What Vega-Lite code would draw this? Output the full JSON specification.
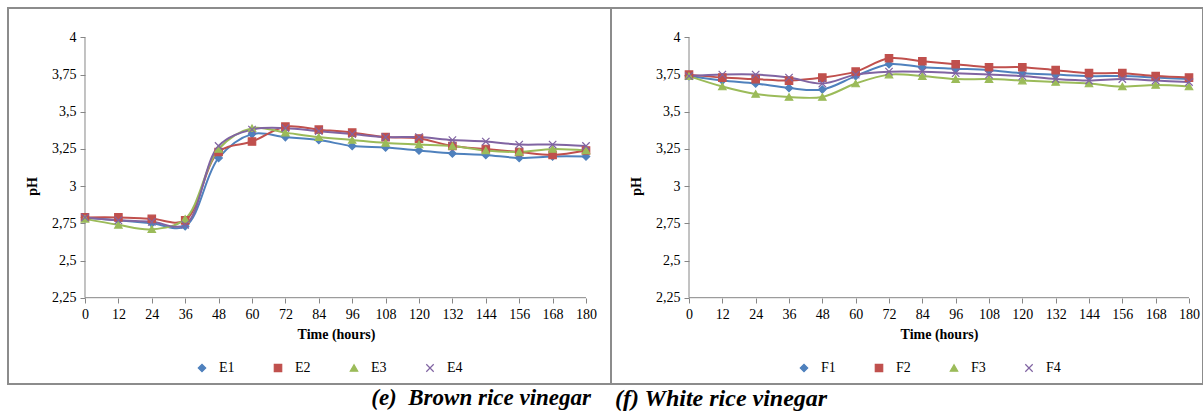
{
  "$schema": "https://vega.github.io/schema/vega-lite/v6.json",
  "padding": {"left": 7, "top": 7, "right": 0, "bottom": 0},
  "background": "white",
  "bounds": "flush",
  "spacing": 0,
  "resolve": {"scale": {"fill": "independent", "stroke": "independent", "shape": "independent"}, "legend": {"fill": "independent", "stroke": "independent", "shape": "independent"}},
  "datasets": {
    "brown": [
      {"series": "E1", "time": 0, "pH": 2.79}, {"series": "E1", "time": 12, "pH": 2.77}, {"series": "E1", "time": 24, "pH": 2.75}, {"series": "E1", "time": 36, "pH": 2.73},
      {"series": "E1", "time": 48, "pH": 3.19}, {"series": "E1", "time": 60, "pH": 3.35}, {"series": "E1", "time": 72, "pH": 3.33}, {"series": "E1", "time": 84, "pH": 3.31},
      {"series": "E1", "time": 96, "pH": 3.27}, {"series": "E1", "time": 108, "pH": 3.26}, {"series": "E1", "time": 120, "pH": 3.24}, {"series": "E1", "time": 132, "pH": 3.22},
      {"series": "E1", "time": 144, "pH": 3.21}, {"series": "E1", "time": 156, "pH": 3.19}, {"series": "E1", "time": 168, "pH": 3.2}, {"series": "E1", "time": 180, "pH": 3.2},
      {"series": "E2", "time": 0, "pH": 2.79}, {"series": "E2", "time": 12, "pH": 2.79}, {"series": "E2", "time": 24, "pH": 2.78}, {"series": "E2", "time": 36, "pH": 2.77},
      {"series": "E2", "time": 48, "pH": 3.23}, {"series": "E2", "time": 60, "pH": 3.3}, {"series": "E2", "time": 72, "pH": 3.4}, {"series": "E2", "time": 84, "pH": 3.38},
      {"series": "E2", "time": 96, "pH": 3.36}, {"series": "E2", "time": 108, "pH": 3.33}, {"series": "E2", "time": 120, "pH": 3.32}, {"series": "E2", "time": 132, "pH": 3.27},
      {"series": "E2", "time": 144, "pH": 3.25}, {"series": "E2", "time": 156, "pH": 3.23}, {"series": "E2", "time": 168, "pH": 3.21}, {"series": "E2", "time": 180, "pH": 3.24},
      {"series": "E3", "time": 0, "pH": 2.78}, {"series": "E3", "time": 12, "pH": 2.74}, {"series": "E3", "time": 24, "pH": 2.71}, {"series": "E3", "time": 36, "pH": 2.78},
      {"series": "E3", "time": 48, "pH": 3.25}, {"series": "E3", "time": 60, "pH": 3.39}, {"series": "E3", "time": 72, "pH": 3.36}, {"series": "E3", "time": 84, "pH": 3.33},
      {"series": "E3", "time": 96, "pH": 3.31}, {"series": "E3", "time": 108, "pH": 3.29}, {"series": "E3", "time": 120, "pH": 3.28}, {"series": "E3", "time": 132, "pH": 3.27},
      {"series": "E3", "time": 144, "pH": 3.24}, {"series": "E3", "time": 156, "pH": 3.23}, {"series": "E3", "time": 168, "pH": 3.25}, {"series": "E3", "time": 180, "pH": 3.24},
      {"series": "E4", "time": 0, "pH": 2.79}, {"series": "E4", "time": 12, "pH": 2.77}, {"series": "E4", "time": 24, "pH": 2.76}, {"series": "E4", "time": 36, "pH": 2.74},
      {"series": "E4", "time": 48, "pH": 3.27}, {"series": "E4", "time": 60, "pH": 3.38}, {"series": "E4", "time": 72, "pH": 3.39}, {"series": "E4", "time": 84, "pH": 3.37},
      {"series": "E4", "time": 96, "pH": 3.35}, {"series": "E4", "time": 108, "pH": 3.33}, {"series": "E4", "time": 120, "pH": 3.33}, {"series": "E4", "time": 132, "pH": 3.31},
      {"series": "E4", "time": 144, "pH": 3.3}, {"series": "E4", "time": 156, "pH": 3.28}, {"series": "E4", "time": 168, "pH": 3.28}, {"series": "E4", "time": 180, "pH": 3.27}
    ],
    "white": [
      {"series": "F1", "time": 0, "pH": 3.74}, {"series": "F1", "time": 12, "pH": 3.71}, {"series": "F1", "time": 24, "pH": 3.69}, {"series": "F1", "time": 36, "pH": 3.66},
      {"series": "F1", "time": 48, "pH": 3.65}, {"series": "F1", "time": 60, "pH": 3.74}, {"series": "F1", "time": 72, "pH": 3.82}, {"series": "F1", "time": 84, "pH": 3.8},
      {"series": "F1", "time": 96, "pH": 3.79}, {"series": "F1", "time": 108, "pH": 3.78}, {"series": "F1", "time": 120, "pH": 3.76}, {"series": "F1", "time": 132, "pH": 3.75},
      {"series": "F1", "time": 144, "pH": 3.74}, {"series": "F1", "time": 156, "pH": 3.74}, {"series": "F1", "time": 168, "pH": 3.73}, {"series": "F1", "time": 180, "pH": 3.72},
      {"series": "F2", "time": 0, "pH": 3.75}, {"series": "F2", "time": 12, "pH": 3.73}, {"series": "F2", "time": 24, "pH": 3.72}, {"series": "F2", "time": 36, "pH": 3.71},
      {"series": "F2", "time": 48, "pH": 3.73}, {"series": "F2", "time": 60, "pH": 3.77}, {"series": "F2", "time": 72, "pH": 3.86}, {"series": "F2", "time": 84, "pH": 3.84},
      {"series": "F2", "time": 96, "pH": 3.82}, {"series": "F2", "time": 108, "pH": 3.8}, {"series": "F2", "time": 120, "pH": 3.8}, {"series": "F2", "time": 132, "pH": 3.78},
      {"series": "F2", "time": 144, "pH": 3.76}, {"series": "F2", "time": 156, "pH": 3.76}, {"series": "F2", "time": 168, "pH": 3.74}, {"series": "F2", "time": 180, "pH": 3.73},
      {"series": "F3", "time": 0, "pH": 3.74}, {"series": "F3", "time": 12, "pH": 3.67}, {"series": "F3", "time": 24, "pH": 3.62}, {"series": "F3", "time": 36, "pH": 3.6},
      {"series": "F3", "time": 48, "pH": 3.6}, {"series": "F3", "time": 60, "pH": 3.69}, {"series": "F3", "time": 72, "pH": 3.75}, {"series": "F3", "time": 84, "pH": 3.74},
      {"series": "F3", "time": 96, "pH": 3.72}, {"series": "F3", "time": 108, "pH": 3.72}, {"series": "F3", "time": 120, "pH": 3.71}, {"series": "F3", "time": 132, "pH": 3.7},
      {"series": "F3", "time": 144, "pH": 3.69}, {"series": "F3", "time": 156, "pH": 3.67}, {"series": "F3", "time": 168, "pH": 3.68}, {"series": "F3", "time": 180, "pH": 3.67},
      {"series": "F4", "time": 0, "pH": 3.74}, {"series": "F4", "time": 12, "pH": 3.75}, {"series": "F4", "time": 24, "pH": 3.75}, {"series": "F4", "time": 36, "pH": 3.73},
      {"series": "F4", "time": 48, "pH": 3.69}, {"series": "F4", "time": 60, "pH": 3.75}, {"series": "F4", "time": 72, "pH": 3.77}, {"series": "F4", "time": 84, "pH": 3.77},
      {"series": "F4", "time": 96, "pH": 3.76}, {"series": "F4", "time": 108, "pH": 3.75}, {"series": "F4", "time": 120, "pH": 3.74}, {"series": "F4", "time": 132, "pH": 3.72},
      {"series": "F4", "time": 144, "pH": 3.71}, {"series": "F4", "time": 156, "pH": 3.72}, {"series": "F4", "time": 168, "pH": 3.71}, {"series": "F4", "time": 180, "pH": 3.7}
    ]
  },
  "config": {
    "view": {"stroke": "#8c8c8c", "strokeWidth": 2},
    "font": "Liberation Serif",
    "axis": {
      "domain": false, "grid": false, "tickColor": "#868686", "tickSize": 5,
      "labelFont": "Liberation Serif", "labelFontSize": 14, "labelColor": "black",
      "labelFlush": false, "labelOverlap": false, "labelBound": false,
      "titleFont": "Liberation Serif", "titleFontSize": 14, "titleFontWeight": "bold", "titleColor": "black"
    },
    "legend": {
      "orient": "none", "legendY": 353, "direction": "horizontal",
      "labelFont": "Liberation Serif", "labelFontSize": 14, "labelColor": "black",
      "symbolSize": 55, "labelOffset": 10, "columnPadding": 36, "symbolStrokeWidth": 1.2, "padding": 0
    },
    "title": {
      "font": "Liberation Serif", "fontSize": 23, "fontStyle": "italic", "fontWeight": "bold",
      "color": "black", "orient": "bottom", "offset": 3, "frame": "group"
    }
  },
  "hconcat": [
    {
      "width": 603, "height": 376,
      "data": {"name": "brown"},
      "title": {"text": "(e)\u00a0 Brown rice vinegar", "anchor": "end", "dx": -20},
      "layer": [
        {
          "mark": {"type": "line", "interpolate": "catmull-rom", "strokeWidth": 2},
          "encoding": {
            "x": {"field": "time", "type": "quantitative",
              "scale": {"domain": [-27.66, 188.98], "nice": false, "zero": false},
              "axis": {"values": [0, 12, 24, 36, 48, 60, 72, 84, 96, 108, 120, 132, 144, 156, 168, 180], "tickCount": 40, "offset": -86, "labelPadding": 4, "title": "Time (hours)", "titleX": 328, "titlePadding": 6}},
            "y": {"field": "pH", "type": "quantitative",
              "scale": {"domain": [1.6696, 4.198], "nice": false, "zero": false},
              "axis": {"values": [2.25, 2.5, 2.75, 3, 3.25, 3.5, 3.75, 4], "tickCount": 20, "offset": -77, "labelPadding": 4, "labelExpr": "replace(toString(datum.value), '.', ',')", "title": "pH", "titleY": 178, "titlePadding": 12}},
            "stroke": {"field": "series", "type": "nominal", "title": null,
              "legend": {"legendX": 187, "legendY": 353},
              "scale": {"domain": ["E1", "E2", "E3", "E4"], "range": ["#4f81bd", "#c0504d", "#9bbb59", "#8064a2"]}}
          }
        },
        {
          "data": {"values": [{}]},
          "mark": {"type": "rule", "color": "#868686", "strokeWidth": 1},
          "encoding": {
            "x": {"datum": 0, "type": "quantitative"},
            "x2": {"datum": 180},
            "y": {"datum": 2.25, "type": "quantitative"}
          }
        },
        {
          "data": {"values": [{}]},
          "mark": {"type": "rule", "color": "#868686", "strokeWidth": 1},
          "encoding": {
            "x": {"datum": 0, "type": "quantitative"},
            "y": {"datum": 2.25, "type": "quantitative"},
            "y2": {"datum": 4}
          }
        },
        {
          "mark": {"type": "point", "filled": true, "size": 55, "opacity": 1, "strokeWidth": 1.2},
          "encoding": {
            "x": {"field": "time", "type": "quantitative"},
            "y": {"field": "pH", "type": "quantitative"},
            "fill": {"field": "series", "type": "nominal", "title": null,
              "legend": {"legendX": 187, "legendY": 353},
              "scale": {"domain": ["E1", "E2", "E3", "E4"], "range": ["#4f81bd", "#c0504d", "#9bbb59", "#8064a2"]}},
            "stroke": {"field": "series", "type": "nominal", "title": null, "legend": {"legendX": 187, "legendY": 353}},
            "shape": {"field": "series", "type": "nominal", "title": null,
              "legend": {"legendX": 187, "legendY": 353},
              "scale": {"domain": ["E1", "E2", "E3", "E4"], "range": ["diamond", "square", "triangle-up", "M-1,-1L1,1M-1,1L1,-1"]}}
          }
        }
      ]
    },
    {
      "width": 592, "height": 376,
      "data": {"name": "white"},
      "title": {"text": "(f) White rice vinegar", "anchor": "start", "dx": 4, "fontSize": 24},
      "layer": [
        {
          "mark": {"type": "line", "interpolate": "catmull-rom", "strokeWidth": 2},
          "encoding": {
            "x": {"field": "time", "type": "quantitative",
              "scale": {"domain": [-28.08, 185.04], "nice": false, "zero": false},
              "axis": {"values": [0, 12, 24, 36, 48, 60, 72, 84, 96, 108, 120, 132, 144, 156, 168, 180], "tickCount": 40, "offset": -86, "labelPadding": 4, "title": "Time (hours)", "titleX": 328, "titlePadding": 6}},
            "y": {"field": "pH", "type": "quantitative",
              "scale": {"domain": [1.6696, 4.198], "nice": false, "zero": false},
              "axis": {"values": [2.25, 2.5, 2.75, 3, 3.25, 3.5, 3.75, 4], "tickCount": 20, "offset": -78, "labelPadding": 4, "labelExpr": "replace(toString(datum.value), '.', ',')", "title": "pH", "titleY": 178, "titlePadding": 12}},
            "stroke": {"field": "series", "type": "nominal", "title": null,
              "legend": {"legendX": 186, "legendY": 353},
              "scale": {"domain": ["F1", "F2", "F3", "F4"], "range": ["#4f81bd", "#c0504d", "#9bbb59", "#8064a2"]}}
          }
        },
        {
          "data": {"values": [{}]},
          "mark": {"type": "rule", "color": "#868686", "strokeWidth": 1},
          "encoding": {
            "x": {"datum": 0, "type": "quantitative"},
            "x2": {"datum": 180},
            "y": {"datum": 2.25, "type": "quantitative"}
          }
        },
        {
          "data": {"values": [{}]},
          "mark": {"type": "rule", "color": "#868686", "strokeWidth": 1},
          "encoding": {
            "x": {"datum": 0, "type": "quantitative"},
            "y": {"datum": 2.25, "type": "quantitative"},
            "y2": {"datum": 4}
          }
        },
        {
          "mark": {"type": "point", "filled": true, "size": 55, "opacity": 1, "strokeWidth": 1.2},
          "encoding": {
            "x": {"field": "time", "type": "quantitative"},
            "y": {"field": "pH", "type": "quantitative"},
            "fill": {"field": "series", "type": "nominal", "title": null,
              "legend": {"legendX": 186, "legendY": 353},
              "scale": {"domain": ["F1", "F2", "F3", "F4"], "range": ["#4f81bd", "#c0504d", "#9bbb59", "#8064a2"]}},
            "stroke": {"field": "series", "type": "nominal", "title": null, "legend": {"legendX": 186, "legendY": 353}},
            "shape": {"field": "series", "type": "nominal", "title": null,
              "legend": {"legendX": 186, "legendY": 353},
              "scale": {"domain": ["F1", "F2", "F3", "F4"], "range": ["diamond", "square", "triangle-up", "M-1,-1L1,1M-1,1L1,-1"]}}
          }
        }
      ]
    }
  ]
}
